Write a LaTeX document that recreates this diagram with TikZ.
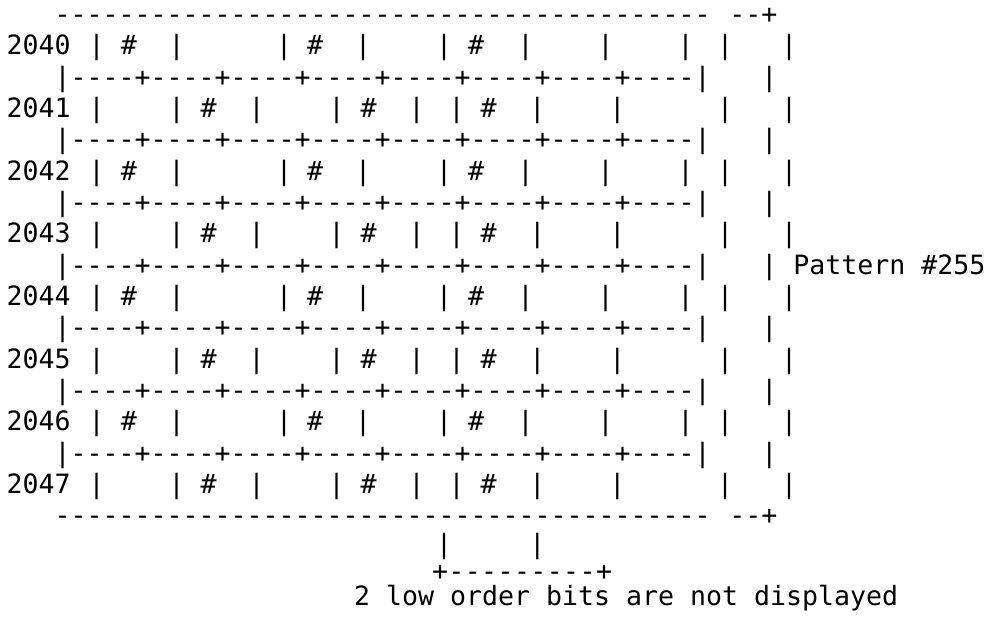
\documentclass[tikz,border=0pt]{standalone}
\usepackage{fontspec}
\setmonofont{DejaVu Sans Mono}
\tikzset{
  asc/.style={font=\ttfamily\fontsize{26.58}{31.33}\selectfont, inner sep=0pt, outer sep=0pt, text=black},
  ch/.style={asc, anchor=base},
  txt/.style={asc, anchor=base west}
}
\begin{document}
\begin{tikzpicture}[x=1pt,y=1pt]
\useasboundingbox (0,0) rectangle (988,-618);
% top and bottom frame lines
\foreach \k/\nm in {0/top,16/bot} {
  \pgfmathsetmacro\yy{-(23.4+31.33*\k)}
  \node[txt] (\nm a) at (54.7,\yy) {-----------------------------------------};
  \node[txt] (\nm b) at (729.3,\yy) {--+};
}
% even rows
\foreach \k/\lab in {1/2040,5/2042,9/2044,13/2046} {
  \pgfmathsetmacro\yy{-(23.4+31.33*\k)}
  \node[txt] (l\lab) at (6.7,\yy) {\lab};
  \foreach \x [count=\j] in {96.7,176.7,284,363,444,525.7,605.7,685.7,725,789}
    \node[ch] (b\lab-\j) at (\x,\yy) {|};
  \foreach \x [count=\j] in {129,315,476}
    \node[ch] (h\lab-\j) at (\x,\yy) {\#};
}
% odd rows
\foreach \k/\lab in {3/2041,7/2043,11/2045,15/2047} {
  \pgfmathsetmacro\yy{-(23.4+31.33*\k)}
  \node[txt] (l\lab) at (6.7,\yy) {\lab};
  \foreach \x [count=\j] in {96.7,176.7,256.7,336.7,416.7,456.7,537.3,617.3,725,789}
    \node[ch] (b\lab-\j) at (\x,\yy) {|};
  \foreach \x [count=\j] in {208.5,368.5,488.5}
    \node[ch] (h\lab-\j) at (\x,\yy) {\#};
}
% separator lines
\foreach \k in {2,4,6,8,10,12,14} {
  \pgfmathsetmacro\yy{-(23.4+31.33*\k)}
  \node[txt] (s\k) at (54.7,\yy) {|----+----+----+----+----+----+----+----|};
  \node[ch] (r\k) at (769.3,\yy) {|};
}
\node[txt] (pat) at (793.3,{-(23.4+31.33*8)}) {Pattern \#255};
% bottom bracket
\node[ch] (v1) at (444,-553) {|};
\node[ch] (v2) at (537.3,-553) {|};
\node[ch] (p1) at (440,-580) {+};
\node[ch] (p2) at (604,-580) {+};
\foreach \j in {1,...,9}
  \node[ch] (d\j) at ({440+\j*16.4},-580) {-};
\node[txt] (note) at (354,-605) {2 low order bits are not displayed};
\end{tikzpicture}
\end{document}
